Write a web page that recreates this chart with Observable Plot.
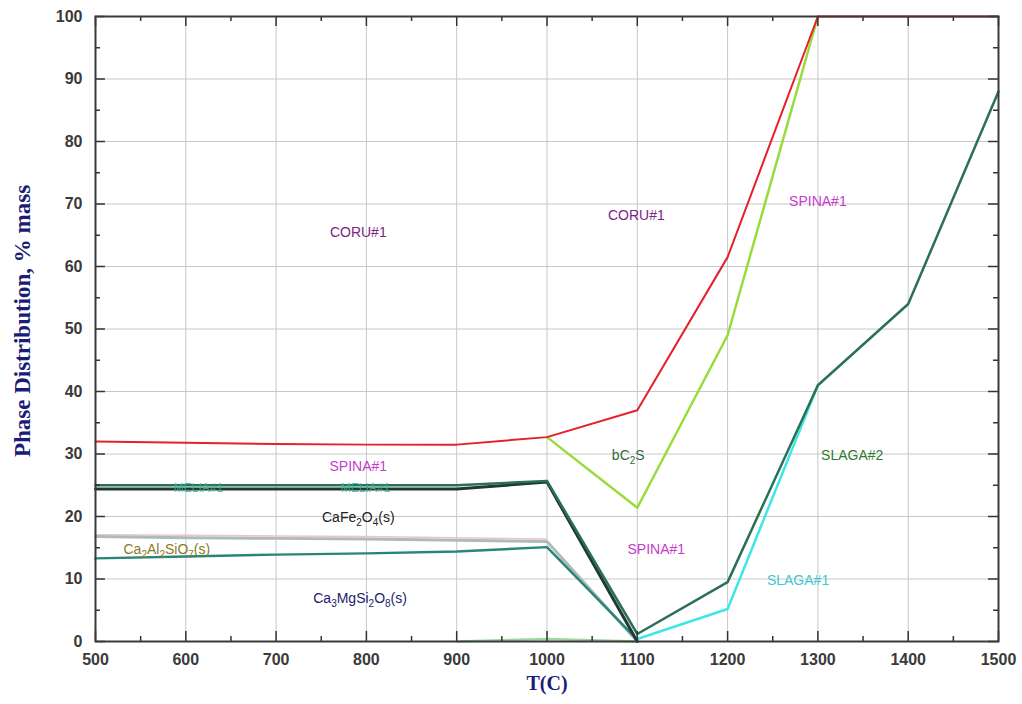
<!DOCTYPE html>
<html>
<head>
<meta charset="utf-8">
<script src="https://cdn.jsdelivr.net/npm/d3@7"></script>
<script src="https://cdn.jsdelivr.net/npm/@observablehq/plot@0.6"></script>
<style>
  html, body { margin: 0; padding: 0; background: #fff; }
  #chart svg { display: block; }
</style>
</head>
<body>
<div id="chart"></div>
<script>
// Temperatures (°C) at which the phase fractions were computed
const temps = [500, 600, 700, 800, 900, 1000, 1100, 1200, 1300, 1400, 1500];

// Cumulative phase boundaries, % mass
const coruLower = [32.0, 31.8, 31.6, 31.5, 31.5, 32.7, 37.0, 61.5, 100, 100, 100];
const bc2sTemps = [1000, 1100, 1200, 1300];
const bc2sUpper = [32.7, 21.4, 49.0, 100];
const spinaLowerTemps = [500, 600, 700, 800, 900, 1000, 1100, 1200, 1300, 1400, 1500];
const spinaLower = [25.0, 25.0, 25.0, 25.0, 25.0, 25.7, 1.2, 9.5, 41.0, 54.0, 88.0];
const meliTemps = [500, 600, 700, 800, 900, 1000, 1100];
const meliLower = [24.4, 24.4, 24.4, 24.4, 24.4, 25.5, 0.0];
const cafeLower = [16.8, 16.6, 16.5, 16.4, 16.2, 16.0, 0.0];
const cafeEdge = [17.1, 17.0, 16.9, 16.8, 16.6, 16.4];
const gehlLower = [13.3, 13.6, 13.9, 14.1, 14.4, 15.1, 0.3];
const slag1Temps = [1100, 1200, 1300];
const slag1Lower = [0.4, 5.2, 41.0];
const traceTemps = [900, 1000, 1100];
const traceLower = [0.0, 0.4, 0.0];

// Axis ticks
const xMajor = d3.range(500, 1501, 100);
const xMinor = d3.range(550, 1500, 100);
const yMajor = d3.range(0, 101, 10);
const yMinor = d3.range(5, 100, 10);

// Phase field labels (digits in formulas without "#" are set as subscripts)
const labelText = ["CORU#1", "CORU#1", "SPINA#1", "SPINA#1", "SPINA#1", "bC2S", "SLAGA#2", "SLAGA#1",
  "CaFe2O4(s)", "Ca2Al2SiO7(s)", "Ca3MgSi2O8(s)", "MELIA#1", "MELIA#1"];
const labelT = [791, 1099, 1300, 791, 1121, 1090, 1338, 1278, 791, 579, 793, 614, 799];
const labelP = [65.4, 68.2, 70.4, 28.0, 14.7, 29.8, 29.8, 9.8, 19.8, 14.7, 6.9, 24.6, 24.6];
const labelColor = ["#7b2585", "#7b2585", "#c43ccc", "#c43ccc", "#c43ccc", "#2e6b3a", "#2f7a2f", "#3cc6cf",
  "#222222", "#8a7a20", "#1c1c6b", "#2ab89a", "#2ab89a"];

const pts = (xs, ys) => xs.map((t, i) => ({t, p: ys[i]}));
const labels = labelText.map((s, i) => ({s, t: labelT[i], p: labelP[i], c: labelColor[i]}));

const titleFont = "'Liberation Serif', 'Times New Roman', serif";

const chart = Plot.plot({
  width: 1022,
  height: 704,
  marginLeft: 95,
  marginRight: 24,
  marginTop: 16,
  marginBottom: 63,
  style: {fontFamily: "'Liberation Sans', Arial, sans-serif", fontSize: "16px", fontWeight: "bold", color: "#3a3a3a", background: "#fff"},
  x: {domain: [500, 1500], ticks: xMajor, tickFormat: d3.format("d"), tickSize: 0, tickPadding: 12, label: null},
  y: {domain: [0, 100], ticks: yMajor, tickFormat: d3.format("d"), tickSize: 0, tickPadding: 13, label: null},
  marks: [
    // grid
    Plot.ruleX(xMajor, {stroke: "#c8c8c8", strokeWidth: 1}),
    Plot.ruleY(yMajor, {stroke: "#c8c8c8", strokeWidth: 1}),

    // phase boundaries
    Plot.line(pts(traceTemps, traceLower), {x: "t", y: "p", stroke: "#9fd89f", strokeWidth: 2.5}),
    Plot.line(pts(temps.slice(0, 6), cafeEdge), {x: "t", y: "p", stroke: "#efc4c4", strokeWidth: 1.5}),
    Plot.line(pts(meliTemps, cafeLower), {x: "t", y: "p", stroke: "#aebbbb", strokeWidth: 3}),
    Plot.line(pts(meliTemps, gehlLower), {x: "t", y: "p", stroke: "#2a8577", strokeWidth: 2.5}),
    Plot.line(pts(slag1Temps, slag1Lower), {x: "t", y: "p", stroke: "#3ee6e6", strokeWidth: 2.5}),
    Plot.line(pts(meliTemps, meliLower), {x: "t", y: "p", stroke: "#1f3a2e", strokeWidth: 3}),
    Plot.line(pts(spinaLowerTemps, spinaLower), {x: "t", y: "p", stroke: "#2a7055", strokeWidth: 2.5}),
    Plot.line(pts(bc2sTemps, bc2sUpper), {x: "t", y: "p", stroke: "#98dc3c", strokeWidth: 2.5}),
    Plot.line(pts(temps, coruLower), {x: "t", y: "p", stroke: "#e5202a", strokeWidth: 2}),

    // inward ticks on all four sides
    Plot.ruleX(xMajor, {x: d => d, y1: 0, y2: 1.6, stroke: "#333", strokeWidth: 1.5}),
    Plot.ruleX(xMinor, {x: d => d, y1: 0, y2: 0.8, stroke: "#333", strokeWidth: 1.5}),
    Plot.ruleX(xMajor, {x: d => d, y1: 100, y2: 98.4, stroke: "#333", strokeWidth: 1.5}),
    Plot.ruleX(xMinor, {x: d => d, y1: 100, y2: 99.2, stroke: "#333", strokeWidth: 1.5}),
    Plot.ruleY(yMajor, {y: d => d, x1: 500, x2: 511, stroke: "#333", strokeWidth: 1.5}),
    Plot.ruleY(yMinor, {y: d => d, x1: 500, x2: 505.5, stroke: "#333", strokeWidth: 1.5}),
    Plot.ruleY(yMajor, {y: d => d, x1: 1500, x2: 1489, stroke: "#333", strokeWidth: 1.5}),
    Plot.ruleY(yMinor, {y: d => d, x1: 1500, x2: 1494.5, stroke: "#333", strokeWidth: 1.5}),
    Plot.frame({stroke: "#3a3a3a", strokeWidth: 2}),

    // phase field labels
    Plot.text(labels.filter(d => !d.s.startsWith("MELIA")), {x: "t", y: "p", text: "s", fill: "c", fontSize: 14, fontWeight: "normal"}),
    Plot.text(labels.filter(d => d.s.startsWith("MELIA")), {x: "t", y: "p", text: "s", fill: "c", fontSize: 12, fontWeight: "normal", fillOpacity: 0.85}),

    // axis titles
    Plot.text(["T(C)"], {frameAnchor: "bottom", dy: 48, text: d => d, fontFamily: titleFont, fontWeight: "bold", fontSize: 20, fill: "#1b1b78"}),
    Plot.text(["Phase Distribution, % mass"], {frameAnchor: "left", dx: -73, dy: -8, rotate: -90, textAnchor: "middle", text: d => d, fontFamily: titleFont, fontWeight: "bold", fontSize: 23, fill: "#1b1b78"})
  ]
});

// Set the stoichiometric digits of chemical formulas as subscripts
d3.select(chart).selectAll("text").each(function () {
  const s = this.textContent;
  if (!/^[A-Za-z]/.test(s) || !/\d/.test(s) || s.includes("#") || this.childElementCount) return;
  const parts = s.match(/\d+|\D+/g);
  const el = d3.select(this).text(null);
  let low = false;
  for (const part of parts) {
    const isDigit = /^\d+$/.test(part);
    const dy = isDigit ? (low ? 0 : 4) : (low ? -4 : 0);
    el.append("tspan").attr("dy", dy || null).attr("font-size", isDigit ? 10 : null).text(part);
    low = isDigit;
  }
});

document.getElementById("chart").appendChild(chart);
</script>
</body>
</html>
